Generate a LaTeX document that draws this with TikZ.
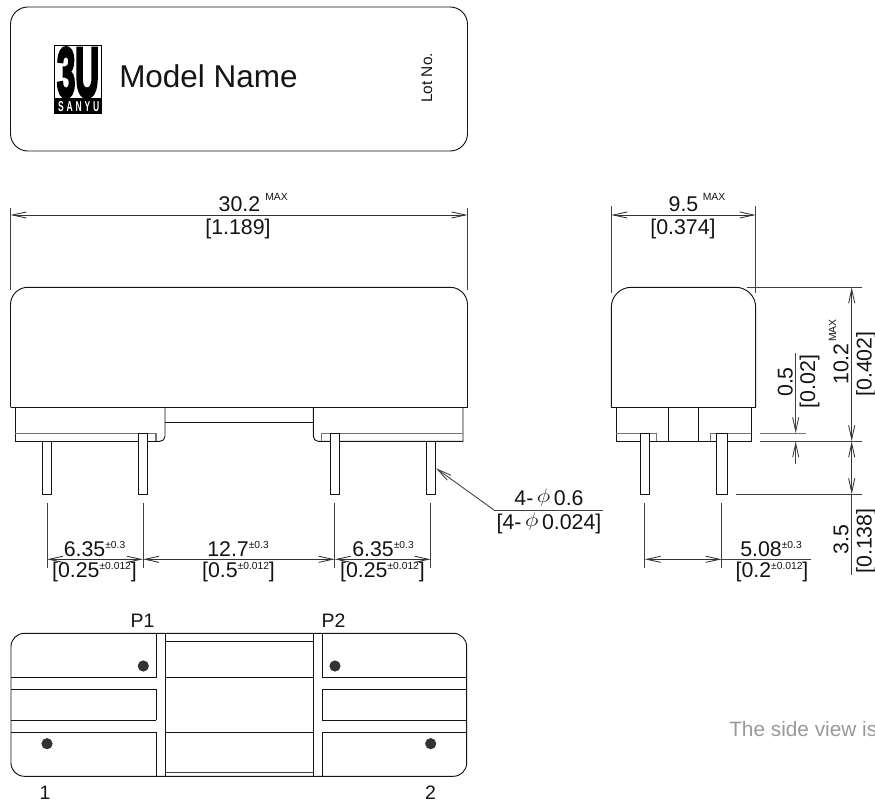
\documentclass[tikz,border=0pt]{standalone}
\usepackage{fontspec}
\setmainfont{Liberation Sans}
\newfontfamily\logofont[FakeBold=5]{Liberation Sans Bold}
\usetikzlibrary{arrows.meta}
\newcommand{\tol}[1]{\raisebox{5.6pt}{\fontsize{7.7}{8}\selectfont #1}}
\newcommand{\dia}{\raisebox{2pt}{\scalebox{1}[0.85]{$\phi$}}}

\begin{document}
\begin{tikzpicture}[x=0.75pt,y=-0.75pt,>={Straight Barb[length=10.5pt,width=4.6pt]},
		body line/.style={draw=black!92,line width=0.7pt},
		grey line/.style={draw=black!55,line width=1.1pt},
		thin line/.style={draw=black!75,line width=0.65pt},
		dim line/.style={draw=black!80,line width=0.65pt,<->},
		pin box/.style={draw=black!92,line width=0.7pt,fill=white},
		dim text/.style={inner sep=0pt,anchor=base,font=\fontsize{16}{16}\selectfont,text=black!92},
		max text/.style={inner sep=0pt,anchor=base west,font=\fontsize{7.8}{8}\selectfont,text=black!92},
		side text/.style={inner sep=0pt,anchor=base,rotate=90,font=\fontsize{16}{16}\selectfont,text=black!92}]
	\useasboundingbox (0,0) rectangle (875,802);

	% label
	\draw[body line,rounded corners=13pt] (10.5,7) rectangle (467.5,151);
	\fill[black] (54,45) rectangle (101.7,114.3);
	\fill[white] (55.2,46.2) rectangle (100.5,98);
	\node[inner sep=0pt,text=black] (logo) at (78,72.5) {\logofont\resizebox{31.5pt}{36.5pt}{3U}};
	\node[inner sep=0pt,text=white] (sanyu) at (78.7,106.5) {\resizebox{31pt}{7.5pt}{\bfseries S\,\,A\,\,N\,\,Y\,\,U}};
	\node[inner sep=0pt,anchor=base west,font=\fontsize{23.6}{24}\selectfont,text=black!92] (model) at (119,88) {Model Name};
	\node[inner sep=0pt,anchor=base,rotate=90,font=\fontsize{11.6}{12}\selectfont,text=black!92] (lot) at (432,78) {Lot No.};

	% front view
	\draw[body line,rounded corners=13pt] (10.5,407.3) -- (10.5,287.3) -- (467.5,287.3) -- (467.5,407.3);
	\draw[body line] (10.5,407.3) -- (467.5,407.3);
	\draw[body line] (15,407.3) -- (15,441.3) -- (156,441.3);
	\draw[body line] (156,441.3) -- (160,441.3) arc[start angle=90,end angle=0,radius=5] -- (165,407.3);
	\draw[body line] (165,422) -- (313.3,422);
	\draw[body line] (313.3,407.3) -- (313.3,436.3) arc[start angle=180,end angle=90,radius=5] -- (463,441.3) -- (463,407.3);
	\draw[grey line] (15,433.7) -- (156,433.7) -- (156,441.3);
	\draw[grey line] (321.7,441.3) -- (321.7,433.7) -- (463,433.7);
	\draw[pin box] (42.3,441.3) rectangle (51.7,494.3);
	\draw[pin box] (138.5,433.7) rectangle (147.5,494.3);
	\draw[pin box] (330.3,433.7) rectangle (339.7,494.3);
	\draw[pin box] (426.3,441.3) rectangle (435.7,494.3);

	% side view
	\draw[body line,rounded corners=15pt] (611.3,407.3) -- (611.3,287.3) -- (755.7,287.3) -- (755.7,407.3);
	\draw[body line] (611.3,407.3) -- (755.7,407.3);
	\draw[body line] (616.3,407.3) -- (616.3,441.3) -- (751,441.3) -- (751,407.3);
	\draw[body line] (668.3,407.3) -- (668.3,441.3);
	\draw[body line] (698.7,407.3) -- (698.7,441.3);
	\draw[grey line] (616.3,433.3) -- (656.7,433.3) -- (656.7,441.3);
	\draw[grey line] (710.3,441.3) -- (710.3,433.3) -- (751,433.3);
	\draw[pin box] (640.7,433.3) rectangle (649.7,494.3);
	\draw[pin box] (716.7,433.3) rectangle (727,494.3);

	% bottom view
	\draw[body line,rounded corners=10pt] (11,633.3) rectangle (466.7,776.3);
	\foreach \xa/\xb in {11/156,322/466.7} {
		\draw[body line] (\xa,677.7) -- (\xb,677.7);
		\draw[body line] (\xa,689.3) -- (\xb,689.3);
		\draw[body line] (\xa,720) -- (\xb,720);
		\draw[body line] (\xa,732) -- (\xb,732);
	}
	\foreach \xa in {156,322} {
		\draw[body line] (\xa,633.3) -- (\xa,677.7);
		\draw[body line] (\xa,689.3) -- (\xa,720);
		\draw[body line] (\xa,732) -- (\xa,776.3);
	}
	\draw[body line] (165,633.3) -- (165,776.3);
	\draw[body line] (313,633.3) -- (313,776.3);
	\draw[body line] (165,641.3) -- (313,641.3);
	\draw[body line] (165,677.7) -- (313,677.7);
	\draw[body line] (165,732) -- (313,732);
	\draw[thin line] (165,772) -- (313,772);
	\foreach \xa/\ya in {143.3/666,335/666,47/743.7,430.7/743.7}
		\fill[black!80] (\xa,\ya) circle[radius=5.6];
	\node[dim text,font=\fontsize{14.6}{15}\selectfont] (p1) at (142.5,627) {P1};
	\node[dim text,font=\fontsize{14.6}{15}\selectfont] (p2) at (333.5,627) {P2};
	\node[dim text,font=\fontsize{14.6}{15}\selectfont] (pin1) at (45,799.5) {1};
	\node[dim text,font=\fontsize{14.6}{15}\selectfont] (pin2) at (430.5,799.5) {2};
	\node[inner sep=0pt,anchor=base west,font=\fontsize{15.6}{16}\selectfont,text=black!40] (note) at (729,736) {The side view is};

	% top dimensions
	\draw[thin line] (10.5,208) -- (10.5,290);
	\draw[thin line] (467.5,208) -- (467.5,290);
	\draw[dim line] (10.5,215) -- (467.5,215);
	\node[dim text] (overall) at (239.5,212) {30.2};
	\node[max text] (overallmax) at (265,201) {MAX};
	\node[dim text] (overallin) at (238,235) {[1.189]};
	\draw[thin line] (611.3,206) -- (611.3,293);
	\draw[thin line] (755.7,206) -- (755.7,293);
	\draw[dim line] (611.3,215) -- (755.7,215);
	\node[dim text] (width) at (683.5,212) {9.5};
	\node[max text] (widthmax) at (702.5,200.6) {MAX};
	\node[dim text] (widthin) at (683,235) {[0.374]};

	% pin pitch
	\foreach \xa in {47,143,334.7,430.7}
		\draw[thin line] (\xa,503.3) -- (\xa,568);
	\draw[dim line] (47,559.3) -- (143,559.3);
	\draw[dim line] (143,559.3) -- (334.7,559.3);
	\draw[dim line] (334.7,559.3) -- (430.7,559.3);
	\node[dim text] (pitcha) at (94.5,556) {6.35\tol{±0.3}};
	\node[dim text] (pitchain) at (94.5,577) {[0.25\tol{±0.012}]};
	\node[dim text] (pitchb) at (238,556) {12.7\tol{±0.3}};
	\node[dim text] (pitchbin) at (238.5,577) {[0.5\tol{±0.012}]};
	\node[dim text] (pitchc) at (383,556) {6.35\tol{±0.3}};
	\node[dim text] (pitchcin) at (382.5,577) {[0.25\tol{±0.012}]};

	% pin diameter
	\coordinate (leadtip) at (436,468.3);
	\coordinate (leadknee) at (494,510);
	\coordinate (leadend) at (603,510);
	\draw[thin line,->] (leadknee) -- (leadtip);
	\draw[thin line] (leadknee) -- (leadend);
	\node[dim text] (dianode) at (549,505) {4-\,\dia\,0.6};
	\node[dim text] (diain) at (549,529) {[4-\,\dia\,0.024]};

	% side pitch
	\draw[thin line] (644.7,503.3) -- (644.7,568.3);
	\draw[thin line] (721.7,503.3) -- (721.7,568.3);
	\draw[dim line] (644.7,559.3) -- (721.7,559.3);
	\draw[thin line] (721.7,559.3) -- (811,559.3);
	\node[dim text] (sidepitch) at (771,556) {5.08\tol{±0.3}};
	\node[dim text] (sidepitchin) at (772,577) {[0.2\tol{±0.012}]};

	% height dimensions
	\draw[thin line] (746.7,287.3) -- (861.7,287.3);
	\draw[thin line] (760,441.3) -- (861.7,441.3);
	\draw[thin line] (736,494.3) -- (861.7,494.3);
	\draw[grey line] (760,433.3) -- (805.7,433.3);
	\draw[dim line] (851.7,287.3) -- (851.7,441.3);
	\draw[dim line] (851.7,441.3) -- (851.7,494.3);
	\draw[thin line] (851.7,494.3) -- (851.7,575);
	\draw[thin line,->] (795.7,353.3) -- (795.7,433.3);
	\draw[thin line,->] (795.7,464) -- (795.7,441.3);
	\node[side text] (gap) at (792.7,382) {0.5};
	\node[side text] (gapin) at (815,381.5) {[0.02]};
	\node[side text] (height) at (848.3,364) {10.2};
	\node[max text,rotate=90] (heightmax) at (836,342) {MAX};
	\node[side text] (heightin) at (871.5,364) {[0.402]};
	\node[side text] (lead) at (848.3,539.5) {3.5};
	\node[side text] (leadin) at (871.5,541) {[0.138]};
\end{tikzpicture}
\end{document}
